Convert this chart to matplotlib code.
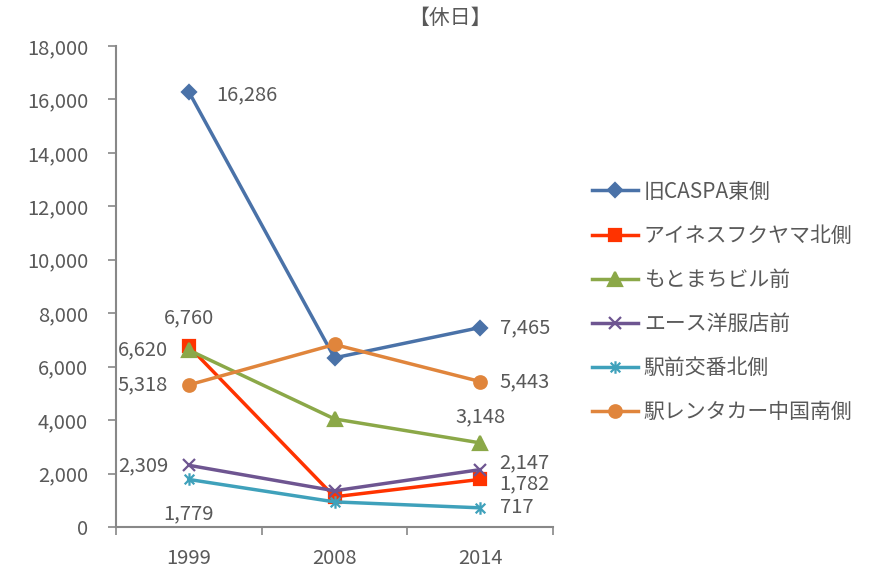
import numpy as np
import matplotlib
matplotlib.use("Agg")
import matplotlib.pyplot as plt
from matplotlib.path import Path

plt.rcParams['font.family'] = ['Noto Sans CJK JP', 'DejaVu Sans']

years = ["1999", "2008", "2014"]
names = ["旧CASPA東側", "アイネスフクヤマ北側", "もとまちビル前",
         "エース洋服店前", "駅前交番北側", "駅レンタカー中国南側"]
caspa = [16286, 6330, 7465]
ines = [6760, 1130, 1782]
motomachi = [6620, 4045, 3148]
ace = [2309, 1355, 2147]
koban = [1779, 940, 717]
rentacar = [5318, 6830, 5443]

# asterisk marker like Excel's (x with a vertical bar)
star = Path([(-1, -1), (1, 1), (-1, 1), (1, -1), (0, -1.3), (0, 1.3)],
            [Path.MOVETO, Path.LINETO, Path.MOVETO, Path.LINETO, Path.MOVETO, Path.LINETO])

series = [
    (caspa, "#4A72A8", "D", 7),
    (ines, "#FF3300", "s", 9),
    (motomachi, "#8BA848", "^", 10),
    (ace, "#6E5591", "x", 8),
    (koban, "#3FA1BB", star, 9),
    (rentacar, "#E0853C", "o", 9),
]

grey = "#595959"
fs = 14.5
fig = plt.figure(figsize=(8.72, 5.71), dpi=100)
ax = fig.add_axes([116/872, 1-527/571, (553-116)/872, (527-46)/571])
x = np.arange(len(years))
for (vals, c, m, ms), nm in zip(series, names):
    ax.plot(x, vals, color=c, lw=2.5, marker=m, ms=ms, mew=1.6,
            markeredgecolor=c, label=nm)

# data labels (1999 and 2014 only)
lab = dict(fontsize=fs, color=grey, textcoords="offset points")
ax.annotate("16,286", (0, caspa[0]), xytext=(20, -2), va="center", ha="left", **lab)
ax.annotate("6,760", (0, ines[0]), xytext=(0, 13), va="bottom", ha="center", **lab)
ax.annotate("6,620", (0, motomachi[0]), xytext=(-15, 0), va="center", ha="right", **lab)
ax.annotate("5,318", (0, rentacar[0]), xytext=(-15, 0), va="center", ha="right", **lab)
ax.annotate("2,309", (0, ace[0]), xytext=(-15, 0), va="center", ha="right", **lab)
ax.annotate("1,779", (0, koban[0]), xytext=(0, -17), va="top", ha="center", **lab)
ax.annotate("7,465", (2, caspa[2]), xytext=(14, 0), va="center", ha="left", **lab)
ax.annotate("5,443", (2, rentacar[2]), xytext=(14, 0), va="center", ha="left", **lab)
ax.annotate("3,148", (2, motomachi[2]), xytext=(0, 11), va="bottom", ha="center", **lab)
ax.annotate("2,147", (2, ace[2]), xytext=(14, 5), va="center", ha="left", **lab)
ax.annotate("1,782", (2, ines[2]), xytext=(14, -3), va="center", ha="left", **lab)
ax.annotate("717", (2, koban[2]), xytext=(14, 0), va="center", ha="left", **lab)

ax.set_xlim(-0.5, 2.5)
ax.set_ylim(0, 18000)
ax.set_yticks(np.arange(0, 18001, 2000))
ax.set_yticklabels([f"{v:,}" for v in range(0, 18001, 2000)])
ax.set_xticks(x)
ax.set_xticklabels(years)
ax.set_xticks([-0.5, 0.5, 1.5, 2.5], minor=True)
ax.tick_params(axis="x", which="major", length=0, pad=15, labelsize=fs, labelcolor=grey)
ax.tick_params(axis="x", which="minor", length=6, color="#888888", width=1.2)
ax.tick_params(axis="y", length=6, color="#888888", width=1.2, labelsize=fs, labelcolor=grey, pad=14)
for s in ["top", "right"]:
    ax.spines[s].set_visible(False)
for s in ["left", "bottom"]:
    ax.spines[s].set_color("#888888")
    ax.spines[s].set_linewidth(1.5)

fig.text(450/872, 1-18/571, "【休日】", ha="center", va="center", fontsize=15, color=grey)

leg = fig.legend(loc="upper left", bbox_to_anchor=(573/872, 1-162/571), frameon=False,
                 fontsize=15, labelspacing=1.06, handlelength=2.2, handletextpad=0.3)
for t in leg.get_texts():
    t.set_color(grey)

fig.savefig("out.png", dpi=100)
